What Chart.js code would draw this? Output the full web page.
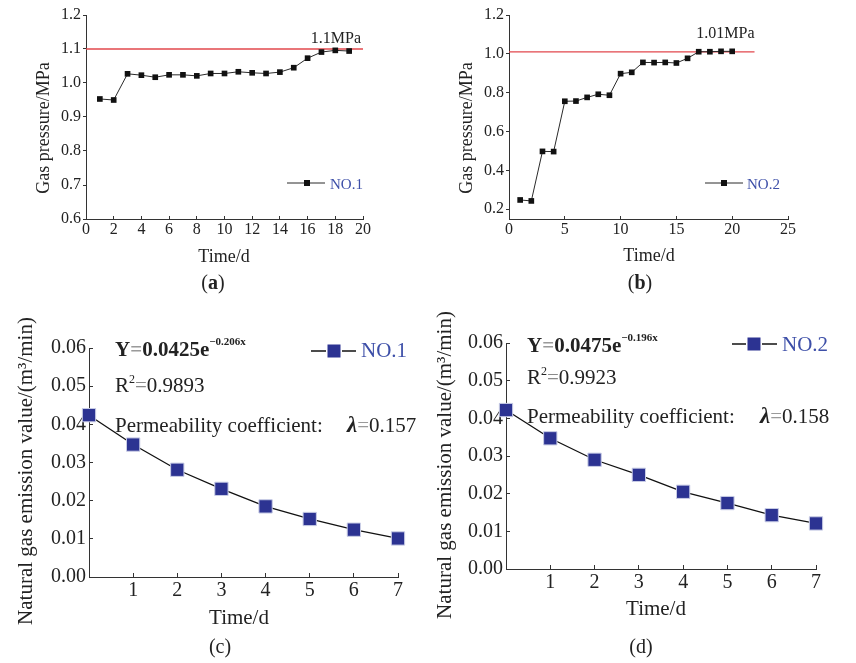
<!DOCTYPE html>
<html>
<head>
<meta charset="utf-8">
<script src="https://cdn.jsdelivr.net/npm/chart.js@4.4.1/dist/chart.umd.min.js"></script>
<style>
  body { margin: 0; background: #fff; }
  #wrap { position: relative; width: 856px; height: 663px; }
  canvas { position: absolute; }
</style>
</head>
<body>
<div id="wrap">
  <canvas id="chartA" width="428" height="300" style="left:0;top:0"></canvas>
  <canvas id="chartB" width="428" height="300" style="left:428px;top:0"></canvas>
  <canvas id="chartC" width="428" height="363" style="left:0;top:300px"></canvas>
  <canvas id="chartD" width="428" height="363" style="left:428px;top:300px"></canvas>
</div>
<script>
// gas pressure, borehole NO.1
const timeA = [1, 2, 3, 4, 5, 6, 7, 8, 9, 10, 11, 12, 13, 14, 15, 16, 17, 18, 19];
const pressureA = [0.953, 0.950, 1.027, 1.023, 1.017, 1.024, 1.024, 1.021, 1.028, 1.028,
                   1.033, 1.030, 1.028, 1.032, 1.045, 1.073, 1.091, 1.096, 1.094];
const limitA = 1.1;
const limitSpanA = [0, 20];
const timeTicksA = [0, 2, 4, 6, 8, 10, 12, 14, 16, 18, 20];
const pressureTicksA = [0.6, 0.7, 0.8, 0.9, 1.0, 1.1, 1.2];

// gas pressure, borehole NO.2
const timeB = [1, 2, 3, 4, 5, 6, 7, 8, 9, 10, 11, 12, 13, 14, 15, 16, 17, 18, 19, 20];
const pressureB = [0.248, 0.243, 0.498, 0.497, 0.756, 0.757, 0.776, 0.792, 0.787, 0.898,
                   0.905, 0.956, 0.955, 0.956, 0.953, 0.977, 1.011, 1.011, 1.013, 1.013];
const limitB = 1.01;
const limitSpanB = [0, 22];
const timeTicksB = [0, 5, 10, 15, 20, 25];
const pressureTicksB = [0.2, 0.4, 0.6, 0.8, 1.0, 1.2];

// natural gas emission
const days = [0, 1, 2, 3, 4, 5, 6, 7];
const emissionC = [0.0424, 0.0347, 0.0281, 0.0231, 0.0185, 0.0152, 0.0124, 0.0101];
const emissionD = [0.0422, 0.0347, 0.0290, 0.0250, 0.0205, 0.0175, 0.0143, 0.0121];
const dayTicks = [1, 2, 3, 4, 5, 6, 7];
const emissionTicks = [0, 0.01, 0.02, 0.03, 0.04, 0.05, 0.06];

const SERIF = "'Liberation Serif', 'Times New Roman', serif";
const INK = "#222";
const AXIS = "#333";
const BLUE = "#3d4fa8";
const NAVY = "#2c3392";

function f(size, style)
{
  return (style ? style + " " : "") + size + "px " + SERIF;
}

// draws a row of text pieces, each with its own font / colour / raise
function drawRuns(ctx, x, y, runs, align)
{
  ctx.textBaseline = "alphabetic";
  ctx.textAlign = "left";
  if (align === "center" || align === "right")
  {
    let w = 0;
    runs.forEach(r => { ctx.font = r.font; w += ctx.measureText(r.text).width; });
    x -= align === "center" ? w / 2 : w;
  }
  runs.forEach(r =>
  {
    ctx.font = r.font;
    ctx.fillStyle = r.color || INK;
    ctx.fillText(r.text, x, y + (r.dy || 0));
    x += ctx.measureText(r.text).width;
  });
  return x;
}

function drawVTitle(ctx, text, x, y, font)
{
  ctx.save();
  ctx.translate(x, y);
  ctx.rotate(-Math.PI / 2);
  ctx.textAlign = "center";
  ctx.textBaseline = "middle";
  ctx.font = font;
  ctx.fillStyle = INK;
  ctx.fillText(text, 0, 0);
  ctx.restore();
}

function drawKey(ctx, k)
{
  ctx.save();
  ctx.strokeStyle = k.line;
  ctx.lineWidth = k.lineWidth;
  ctx.beginPath();
  ctx.moveTo(k.x0, k.y);
  ctx.lineTo(k.x1, k.y);
  ctx.stroke();
  const h = k.size / 2;
  if (k.edge)
  {
    ctx.fillStyle = k.edge;
    ctx.fillRect(k.xm - h - 1.5, k.y - h - 1.5, k.size + 3, k.size + 3);
  }
  ctx.fillStyle = k.fill;
  ctx.fillRect(k.xm - h, k.y - h, k.size, k.size);
  ctx.restore();
  drawRuns(ctx, k.tx, k.ty, [{ text: k.label, font: k.font, color: BLUE }]);
}

function toPoints(xs, ys)
{
  return xs.map((x, i) => ({ x: x, y: ys[i] }));
}

function axis(min, max, tickValues, o)
{
  return {
    type: "linear",
    min: min,
    max: max,
    afterBuildTicks: s => { s.ticks = tickValues.map(v => ({ value: v })); },
    afterFit: s =>
    {
      if (o.width) s.width = o.width;
      if (o.height) s.height = o.height;
    },
    grid: { drawOnChartArea: false, color: AXIS, tickLength: o.tickLength, lineWidth: 1 },
    border: { color: AXIS, width: 1 },
    ticks:
    {
      color: INK,
      padding: o.padding,
      font: { family: SERIF, size: o.fontSize, lineHeight: 1 },
      callback: v => o.digits === undefined ? String(v) : Number(v).toFixed(o.digits)
    }
  };
}

function pressureChart(id, p)
{
  return new Chart(document.getElementById(id),
  {
    type: "line",
    data:
    {
      datasets: [
      {
        label: p.name,
        data: toPoints(p.time, p.pressure),
        borderColor: "#2a2a2a",
        borderWidth: 1,
        pointStyle: "rect",
        pointRadius: 4,
        pointBorderWidth: 0,
        pointBackgroundColor: "#111",
        tension: 0,
        clip: false
      },
      {
        label: "limit",
        data: p.limitSpan.map(x => ({ x: x, y: p.limit })),
        borderColor: "#e2474d",
        borderWidth: 1.3,
        pointRadius: 0
      }]
    },
    options:
    {
      responsive: false,
      animation: false,
      events: [],
      layout: { padding: { left: 0, right: p.padRight, top: 15, bottom: 0 } },
      plugins: { legend: { display: false }, tooltip: { enabled: false } },
      scales:
      {
        x: axis(p.xMin, p.xMax, p.timeTicks, { height: 81, tickLength: -3, padding: 6, fontSize: 16 }),
        y: axis(p.yMin, p.yMax, p.pressureTicks, { width: p.yWidth, tickLength: 3, padding: 2, fontSize: 16, digits: 1 })
      }
    },
    plugins: [
    {
      id: "pressureText",
      afterDraw(chart)
      {
        const ctx = chart.ctx;
        const xs = chart.scales.x, ys = chart.scales.y;
        drawRuns(ctx, xs.getPixelForValue(p.limitSpan[1]) - p.limitLabelDx,
          ys.getPixelForValue(p.limit) - p.limitLabelDy,
          [{ text: p.limitLabel, font: f(16) }], "right");
        drawVTitle(ctx, "Gas pressure/MPa", p.yTitle[0], p.yTitle[1], f(18));
        drawRuns(ctx, p.xTitle[0], p.xTitle[1], [{ text: "Time/d", font: f(18) }], "center");
        drawRuns(ctx, p.caption[0], p.caption[1],
          [{ text: "(", font: f(20) }, { text: p.letter, font: f(20, "bold") }, { text: ")", font: f(20) }], "center");
        drawKey(ctx, Object.assign({ line: "#2a2a2a", lineWidth: 1, size: 6, fill: "#111", font: f(15), label: p.name }, p.key));
      }
    }]
  });
}

function emissionChart(id, p)
{
  return new Chart(document.getElementById(id),
  {
    type: "line",
    data:
    {
      datasets: [
      {
        label: p.name,
        data: toPoints(days, p.emission),
        borderColor: "#111",
        borderWidth: 1.3,
        pointStyle: "rect",
        pointRadius: 9.4,
        pointBorderWidth: 1,
        pointBorderColor: "#c9cde6",
        pointBackgroundColor: NAVY,
        tension: 0,
        clip: false
      }]
    },
    options:
    {
      responsive: false,
      animation: false,
      events: [],
      layout: { padding: { left: 0, right: p.padRight, top: p.padTop, bottom: 0 } },
      plugins: { legend: { display: false }, tooltip: { enabled: false } },
      scales:
      {
        x: axis(0, 7, dayTicks, { height: p.xHeight, tickLength: -4, padding: 8, fontSize: 20 }),
        y: axis(0, 0.06, emissionTicks, { width: p.yWidth, tickLength: -4, padding: 7, fontSize: 20, digits: 2 })
      }
    },
    plugins: [
    {
      id: "emissionText",
      afterDraw(chart)
      {
        const ctx = chart.ctx;
        const t = p.text;
        drawRuns(ctx, t.x, t.eqY, [
          { text: "Y", font: f(21, "bold") },
          { text: "=", font: f(21, "bold"), color: "#9a9a9a" },
          { text: p.coef + "e", font: f(21, "bold") },
          { text: p.exponent, font: f(11, "bold"), dy: -11 }
        ]);
        drawRuns(ctx, t.x, t.r2Y, [
          { text: "R", font: f(21) },
          { text: "2", font: f(12), dy: -9 },
          { text: "=", font: f(21), color: "#8a8a8a" },
          { text: p.r2, font: f(21) }
        ]);
        drawRuns(ctx, t.x, t.permY, [{ text: "Permeability coefficient:", font: f(21) }]);
        drawRuns(ctx, t.lambdaX, t.permY, [
          { text: "λ", font: f(23, "italic bold") },
          { text: "=", font: f(21), color: "#9a9a9a" },
          { text: p.lambda, font: f(21) }
        ]);
        drawVTitle(ctx, "Natural gas emission value/(m³/min)", p.yTitle[0], p.yTitle[1], f(21));
        drawRuns(ctx, p.xTitle[0], p.xTitle[1], [{ text: "Time/d", font: f(21) }], "center");
        drawRuns(ctx, p.caption[0], p.caption[1],
          [{ text: "(" + p.letter + ")", font: f(20) }], "center");
        drawKey(ctx, Object.assign({ line: "#111", lineWidth: 1.3, size: 13, fill: NAVY, edge: "#ffffff", font: f(21), label: p.name }, p.key));
      }
    }]
  });
}

pressureChart("chartA",
{
  name: "NO.1", letter: "a",
  time: timeA, pressure: pressureA, timeTicks: timeTicksA, pressureTicks: pressureTicksA,
  limit: limitA, limitSpan: limitSpanA, limitLabel: "1.1MPa", limitLabelDx: 2, limitLabelDy: 6,
  xMin: 0, xMax: 20, yMin: 0.6, yMax: 1.2, yWidth: 86, padRight: 65,
  yTitle: [44, 128], xTitle: [224, 262], caption: [213, 289],
  key: { x0: 287, x1: 325, xm: 307, y: 183, tx: 330, ty: 189 }
});

pressureChart("chartB",
{
  name: "NO.2", letter: "b",
  time: timeB, pressure: pressureB, timeTicks: timeTicksB, pressureTicks: pressureTicksB,
  limit: limitB, limitSpan: limitSpanB, limitLabel: "1.01MPa", limitLabelDx: 0, limitLabelDy: 14,
  xMin: 0, xMax: 25, yMin: 0.15, yMax: 1.2, yWidth: 81, padRight: 68,
  yTitle: [39, 128], xTitle: [221, 261], caption: [212, 289],
  key: { x0: 277, x1: 315, xm: 296, y: 183, tx: 319, ty: 189 }
});

emissionChart("chartC",
{
  name: "NO.1", letter: "c", emission: emissionC,
  coef: "0.0425", exponent: "−0.206x", r2: "0.9893", lambda: "0.157",
  yWidth: 89, padRight: 30, padTop: 48, xHeight: 86,
  text: { x: 115, eqY: 56, r2Y: 92, permY: 132, lambdaX: 347 },
  yTitle: [26, 171], xTitle: [239, 324], caption: [220, 353],
  key: { x0: 311, x1: 356, xm: 334, y: 51, tx: 361, ty: 57 }
});

emissionChart("chartD",
{
  name: "NO.2", letter: "d", emission: emissionD,
  coef: "0.0475", exponent: "−0.196x", r2: "0.9923", lambda: "0.158",
  yWidth: 78, padRight: 40, padTop: 43, xHeight: 94,
  text: { x: 99, eqY: 52, r2Y: 84, permY: 123, lambdaX: 332 },
  yTitle: [17, 165], xTitle: [228, 315], caption: [213, 353],
  key: { x0: 304, x1: 349, xm: 326, y: 44, tx: 354, ty: 51 }
});
</script>
</body>
</html>
